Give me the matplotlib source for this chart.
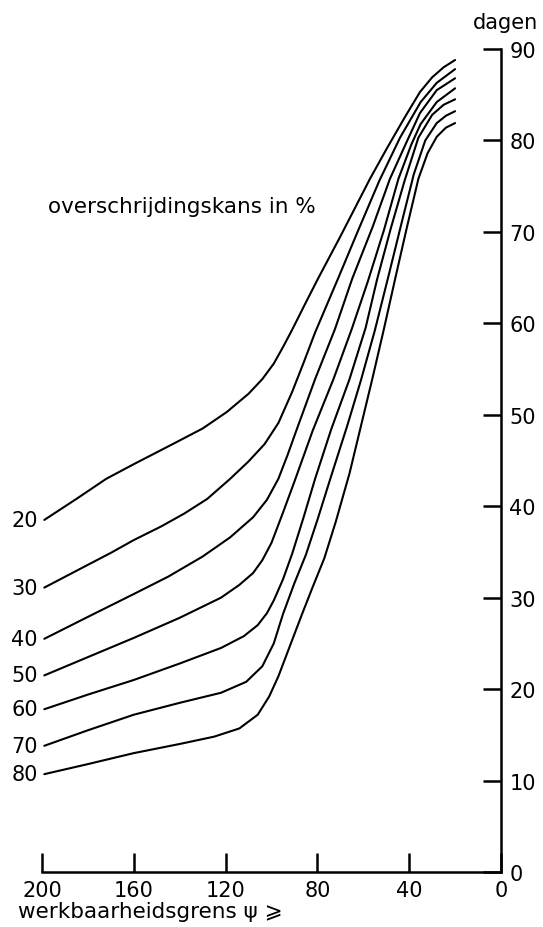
import matplotlib
matplotlib.use("Agg")
import matplotlib.pyplot as plt

plt.rcParams['font.family'] = ['DejaVu Sans']

# werkbaarheidsgrens (psi) vs dagen, per overschrijdingskans
p20_x = [199, 185, 172, 160, 143, 130, 119.5, 110, 104, 99, 95, 91, 85, 79.7, 70, 57.1, 49.8, 42, 35.3, 30, 25, 20]
p20_y = [38.5, 40.8, 43.0, 44.6, 46.8, 48.5, 50.3, 52.3, 53.9, 55.6, 57.4, 59.3, 62.3, 64.9, 69.5, 75.8, 79.1, 82.5, 85.3, 86.9, 88.0, 88.8]

p30_x = [199, 183, 170, 160, 148, 138, 128, 118, 110, 103, 97, 91, 86, 81, 71, 62, 53, 44, 35, 28, 20]
p30_y = [31.1, 33.2, 34.9, 36.3, 37.8, 39.2, 40.8, 43.0, 44.9, 46.8, 49.1, 52.5, 55.7, 59.0, 64.9, 70.3, 75.6, 80.3, 84.2, 86.3, 87.8]

p40_x = [199, 180, 160, 145, 130, 118, 108, 102, 97, 93, 89, 81, 72.3, 64.8, 56, 48.4, 41, 35.3, 28, 20]
p40_y = [25.5, 27.9, 30.4, 32.3, 34.5, 36.6, 38.8, 40.7, 43.0, 45.6, 48.4, 53.9, 59.4, 64.9, 70.5, 75.8, 79.9, 83.0, 85.5, 86.8]

p50_x = [199, 180, 160, 140, 122, 114, 108, 104, 100, 95, 90, 82, 73, 65, 58, 51, 44.7, 39, 35, 28, 20]
p50_y = [21.5, 23.5, 25.6, 27.8, 30.0, 31.4, 32.7, 34.1, 36.0, 39.3, 42.7, 48.3, 53.9, 59.4, 64.6, 70.2, 75.8, 79.6, 81.8, 84.2, 85.7]

p60_x = [199, 180, 160, 140, 122, 112, 106, 102, 99, 95, 91, 86, 81, 74, 66, 59, 54, 48, 42, 36, 30, 25, 20]
p60_y = [17.8, 19.4, 21.0, 22.8, 24.5, 25.8, 27.0, 28.3, 29.7, 32.0, 34.8, 38.8, 43.0, 48.4, 53.9, 59.5, 64.8, 70.4, 75.6, 80.3, 82.8, 83.9, 84.5]

p70_x = [199, 180, 160, 140, 122, 111, 104, 99, 95, 90, 85, 80, 74, 67, 61, 55, 49, 43, 38, 33, 28, 24, 20]
p70_y = [13.8, 15.5, 17.2, 18.5, 19.6, 20.8, 22.5, 25.0, 28.2, 31.6, 34.7, 38.5, 43.3, 48.8, 53.8, 59.2, 65.2, 71.3, 76.3, 80.0, 81.9, 82.7, 83.2]

p80_x = [199, 180, 160, 140, 125, 114, 106, 101, 97, 92, 87, 82, 77, 72, 66, 61, 56, 51, 46, 41, 36, 32, 28, 24, 20]
p80_y = [10.7, 11.8, 13.0, 14.0, 14.8, 15.7, 17.2, 19.2, 21.4, 24.7, 28.0, 31.2, 34.3, 38.3, 43.6, 48.8, 54.0, 59.4, 65.0, 70.5, 75.8, 78.6, 80.4, 81.4, 81.9]

curve_labels = ['20', '30', '40', '50', '60', '70', '80']
xs = [p20_x, p30_x, p40_x, p50_x, p60_x, p70_x, p80_x]
ys = [p20_y, p30_y, p40_y, p50_y, p60_y, p70_y, p80_y]

x_ticks = [200, 160, 120, 80, 40, 0]
y_ticks = [0, 10, 20, 30, 40, 50, 60, 70, 80, 90]

fig = plt.figure(figsize=(5.43, 9.28), dpi=100)
ax = fig.add_axes([42/543, 55/928, 459/543, 823/928])

for lab, x, y in zip(curve_labels, xs, ys):
    ax.plot(x, y, color='black', lw=1.5, solid_joinstyle='round', solid_capstyle='round')
    ax.text(201.8, y[0], lab, ha='right', va='center', fontsize=15)

ax.set_xlim(200, 0)
ax.set_ylim(0, 90)

ax.spines['top'].set_visible(False)
ax.spines['left'].set_visible(False)
ax.spines['bottom'].set_linewidth(1.8)
ax.spines['right'].set_linewidth(1.8)

ax.set_xticks(x_ticks)
ax.set_yticks(y_ticks)
ax.yaxis.tick_right()
ax.tick_params(axis='x', direction='in', length=14, width=1.8, pad=6, labelsize=15)
ax.tick_params(axis='y', direction='in', length=13, width=1.8, pad=6, labelsize=15)

ax.text(1.009, 1.033, 'dagen', transform=ax.transAxes, ha='center', va='center', fontsize=15)
ax.text(0.013, 0.809, 'overschrijdingskans in %', transform=ax.transAxes,
        ha='left', va='center', fontsize=15.5)
fig.text(18/543, 1 - 912/928, 'werkbaarheidsgrens ψ ⩾', ha='left', va='center', fontsize=15.5)

fig.savefig('out.png', dpi=100)
